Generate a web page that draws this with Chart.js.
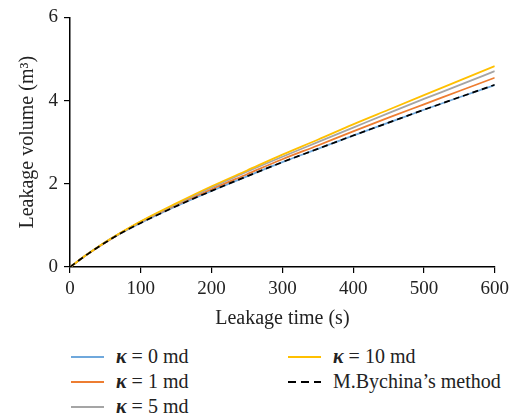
<!DOCTYPE html>
<html><head><meta charset="utf-8">
<script src="https://cdn.jsdelivr.net/npm/chart.js@4/dist/chart.umd.min.js"></script>
<style>
html,body{margin:0;padding:0;background:#fff;}
#wrap{position:relative;width:514px;height:415px;}
#c{position:absolute;left:0;top:0;}
.leg{position:absolute;font-family:"Liberation Serif","DejaVu Serif",serif;font-size:20px;line-height:24px;color:#222;white-space:nowrap;}
.leg span.ln{display:inline-block;width:33px;height:2px;vertical-align:middle;margin-right:12px;position:relative;top:-1px;}
.leg i{font-style:italic;font-weight:bold;}
</style></head><body>
<div id="wrap">
<canvas id="c" width="514" height="335"></canvas>
<div id="legend"></div>
</div>
<script>
const times = [0, 25, 50, 75, 100, 150, 200, 250, 300, 350, 400, 450, 500, 550, 600];
const k0  = [0, 0.31, 0.59, 0.84, 1.06, 1.46, 1.83, 2.18, 2.52, 2.84, 3.16, 3.47, 3.78, 4.08, 4.37];
const k1  = [0, 0.31, 0.59, 0.85, 1.08, 1.49, 1.87, 2.23, 2.59, 2.92, 3.26, 3.59, 3.91, 4.23, 4.55];
const k5  = [0, 0.31, 0.60, 0.85, 1.09, 1.51, 1.91, 2.29, 2.65, 3.00, 3.35, 3.70, 4.04, 4.37, 4.71];
const k10 = [0, 0.31, 0.60, 0.86, 1.10, 1.53, 1.94, 2.32, 2.70, 3.06, 3.43, 3.78, 4.13, 4.48, 4.83];
const bychina = [0, 0.31, 0.59, 0.84, 1.06, 1.46, 1.83, 2.18, 2.52, 2.84, 3.16, 3.47, 3.78, 4.08, 4.38];
const xTicks = [0, 100, 200, 300, 400, 500, 600];
const yTicks = [0, 2, 4, 6];

const names = ["\u03BA = 0 md", "\u03BA = 1 md", "\u03BA = 5 md", "\u03BA = 10 md", "M.Bychina\u2019s method"];
const colors = ["#6fa8dc", "#ed7d31", "#a5a5a5", "#ffc000", "#000000"];
const drawOrder = [4, 3, 2, 1, 0];
const series = [k0, k1, k5, k10, bychina];

const mk = (arr) => times.map((t, i) => ({x: t, y: arr[i]}));
const datasets = series.map((s, i) => ({
  label: names[i],
  data: mk(s),
  borderColor: colors[i],
  borderWidth: i === 4 ? 1.7 : 1.8,
  borderDash: i === 4 ? [6, 4] : [],
  pointRadius: 0,
  fill: false,
  order: drawOrder[i],
  cubicInterpolationMode: 'monotone'
}));

const tickFont = {family: '"Liberation Serif","DejaVu Serif",serif', size: 19};
const titleFont = {family: '"Liberation Serif","DejaVu Serif",serif', size: 20};
new Chart(document.getElementById('c'), {
  type: 'line',
  data: {datasets},
  options: {
    responsive: false,
    animation: false,
    layout: {padding: {left: 0, right: 18, top: 8, bottom: 0}},
    plugins: {legend: {display: false}, tooltip: {enabled: false}},
    scales: {
      x: {
        type: 'linear', min: 0, max: 600,
        afterBuildTicks: (s) => { s.ticks = xTicks.map(v => ({value: v})); },
        afterFit: (s) => { s.height = 68; },
        grid: {drawOnChartArea: false, drawTicks: true, tickLength: 6, color: '#000', lineWidth: 1.2},
        border: {color: '#000', width: 1.5},
        ticks: {color: '#222', font: tickFont, padding: 5, maxRotation: 0},
        title: {display: true, text: 'Leakage time (s)', color: '#222', font: titleFont, padding: {top: 0}}
      },
      y: {
        min: 0, max: 6,
        afterBuildTicks: (s) => { s.ticks = yTicks.map(v => ({value: v})); },
        afterFit: (s) => { s.width = 70; },
        grid: {drawOnChartArea: false, drawTicks: true, tickLength: 6, color: '#000', lineWidth: 1.2},
        border: {color: '#000', width: 1.5},
        ticks: {color: '#222', font: tickFont, padding: 6},
        title: {display: true, text: 'Leakage volume (m\u00B3)', color: '#222', font: titleFont, padding: {top: 16, bottom: 4}}
      }
    }
  }
});

// HTML legend (two columns)
const legPos = [[71, 344], [71, 369], [71, 394], [288, 344], [288, 369]];
const legend = document.getElementById('legend');
names.forEach((n, i) => {
  const d = document.createElement('div');
  d.className = 'leg';
  d.style.left = legPos[i][0] + 'px';
  d.style.top = legPos[i][1] + 'px';
  const ln = document.createElement('span');
  ln.className = 'ln';
  if (i === 4) {
    ln.style.background = 'repeating-linear-gradient(90deg,#000 0 8px,transparent 8px 13px)';
  } else {
    ln.style.background = colors[i];
  }
  d.appendChild(ln);
  if (i < 4) {
    const k = document.createElement('i'); k.textContent = '\u03BA';
    d.appendChild(k);
    d.appendChild(document.createTextNode(n.slice(1)));
  } else {
    d.appendChild(document.createTextNode(n));
  }
  legend.appendChild(d);
});
</script>
</body></html>
